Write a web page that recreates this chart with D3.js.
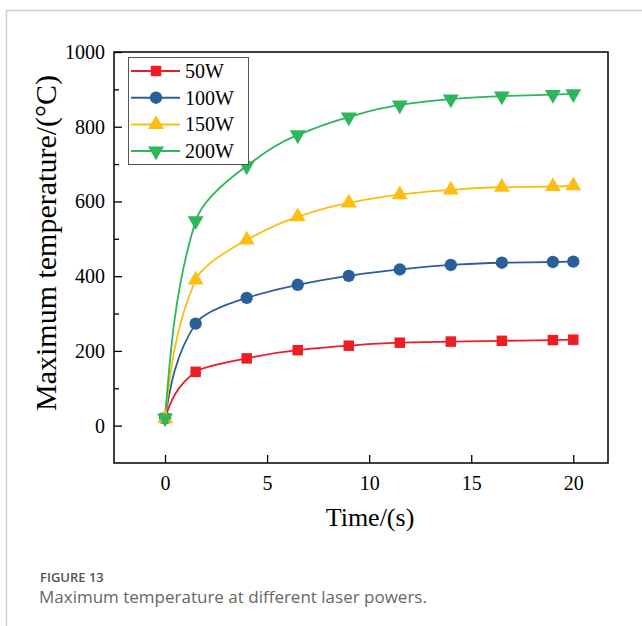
<!DOCTYPE html>
<html>
<head>
<meta charset="utf-8">
<script src="https://cdn.jsdelivr.net/npm/d3@7"></script>
<style>
  body { margin: 0; background: #fff; }
  text { font-family: "Liberation Serif", "Times New Roman", serif; }
</style>
</head>
<body>
<div id="chart"></div>
<script>
// time points (s)
var times = [0, 1.5, 4, 6.5, 9, 11.5, 14, 16.5, 19, 20];
// maximum temperature (°C) for each laser power
var temp50 = [20, 144, 180, 202, 214, 222, 225, 227, 229, 230];
var temp100 = [20, 273, 342, 377, 401, 418, 430, 436, 438, 439];
var temp150 = [20, 390, 497, 559, 596, 618, 631, 638, 640, 642];
var temp200 = [20, 548, 695, 778, 826, 858, 874, 882, 886, 888];
var seriesNames = ["50W", "100W", "150W", "200W"];
var xTicks = [0, 5, 10, 15, 20];
var yTicks = [0, 200, 400, 600, 800, 1000];
var yMinor = [100, 300, 500, 700, 900];

function main() {
    var W = 642, H = 626;
    var svg = d3.select("#chart").append("svg")
        .attr("width", W).attr("height", H);

    // card border
    svg.append("path")
        .attr("d", "M6.5," + H + "V10.5H" + W)
        .attr("fill", "none").attr("stroke", "#cfcfcf").attr("stroke-width", 1.5);

    var left = 114, right = 608, top = 52, bottom = 463;
    var x = d3.scaleLinear().domain([-2.5, 21.7]).range([left, right]);
    var y = d3.scaleLinear().domain([-100, 1000]).range([bottom, top]);

    var series = [
        { name: seriesNames[0], values: temp50, color: "#ee1d23", symbol: d3.symbolSquare, size: 110, rot: 0 },
        { name: seriesNames[1], values: temp100, color: "#2c5e99", symbol: d3.symbolCircle, size: 120, rot: 0 },
        { name: seriesNames[2], values: temp150, color: "#fdbd12", symbol: d3.symbolTriangle, size: 110, rot: 0 },
        { name: seriesNames[3], values: temp200, color: "#2db65c", symbol: d3.symbolTriangle, size: 110, rot: 180 }
    ];

    // axes
    svg.append("g")
        .attr("transform", "translate(0," + bottom + ")")
        .call(d3.axisBottom(x).tickValues(xTicks).tickSizeInner(-8).tickSizeOuter(0).tickPadding(13));
    svg.append("g")
        .attr("transform", "translate(" + left + ",0)")
        .call(d3.axisLeft(y).tickValues(yTicks).tickFormat(d3.format("d"))
            .tickSizeInner(-8).tickSizeOuter(0).tickPadding(9));
    svg.append("g")
        .attr("transform", "translate(" + left + ",0)")
        .call(d3.axisLeft(y).tickValues(yMinor).tickSizeInner(-5).tickSizeOuter(0).tickFormat(""));
    svg.selectAll(".domain").remove();
    svg.selectAll(".tick line").attr("stroke", "#000").attr("stroke-width", 1.3);
    svg.selectAll(".tick text")
        .style("font-family", "'Liberation Serif', serif")
        .style("font-size", "20px").attr("fill", "#000");

    // plot frame
    svg.append("rect")
        .attr("x", left).attr("y", top)
        .attr("width", right - left).attr("height", bottom - top)
        .attr("fill", "none").attr("stroke", "#000").attr("stroke-width", 1.5);

    // lines (temperature rises monotonically, so interpolate along y)
    var line = d3.line()
        .x(function (d, i) { return x(times[i]); })
        .y(function (d) { return y(d); })
        .curve(d3.curveMonotoneY);

    series.forEach(function (s) {
        svg.append("path")
            .datum(s.values)
            .attr("d", line)
            .attr("fill", "none")
            .attr("stroke", s.color)
            .attr("stroke-width", 1.8);
    });
    series.forEach(function (s) {
        svg.append("g").selectAll("path")
            .data(s.values)
            .enter().append("path")
            .attr("d", d3.symbol().type(s.symbol).size(s.size))
            .attr("transform", function (d, i) {
                return "translate(" + x(times[i]) + "," + y(d) + ") rotate(" + s.rot + ")";
            })
            .attr("fill", s.color);
    });

    // legend
    var lg = svg.append("g");
    lg.append("rect")
        .attr("x", 128.5).attr("y", 57.5).attr("width", 120).attr("height", 107)
        .attr("fill", "#fff").attr("stroke", "#555").attr("stroke-width", 1);
    series.forEach(function (s, i) {
        var ly = 71 + i * 26.7;
        lg.append("line")
            .attr("x1", 131).attr("x2", 180).attr("y1", ly).attr("y2", ly)
            .attr("stroke", s.color).attr("stroke-width", 2);
        lg.append("path")
            .attr("d", d3.symbol().type(s.symbol).size(s.size))
            .attr("transform", "translate(156," + ly + ") rotate(" + s.rot + ")")
            .attr("fill", s.color);
        lg.append("text")
            .attr("x", 185).attr("y", ly + 7)
            .style("font-size", "20px")
            .text(s.name);
    });

    // axis titles
    svg.append("text")
        .attr("x", 370).attr("y", 526)
        .attr("text-anchor", "middle")
        .style("font-size", "26px")
        .text("Time/(s)");
    svg.append("text")
        .attr("transform", "translate(56,243) rotate(-90)")
        .attr("text-anchor", "middle")
        .style("font-size", "30px")
        .text("Maximum temperature/(°C)");

    // caption
    svg.append("text")
        .attr("x", 40).attr("y", 582)
        .style("font-family", "'Open Sans', sans-serif")
        .style("font-size", "13px").style("font-weight", 600)
        .attr("fill", "#555")
        .text("FIGURE 13");
    svg.append("text")
        .attr("x", 39).attr("y", 603)
        .style("font-family", "'Open Sans', sans-serif")
        .style("font-size", "17px")
        .attr("fill", "#666")
        .text("Maximum temperature at different laser powers.");
}

main();
</script>
</body>
</html>
